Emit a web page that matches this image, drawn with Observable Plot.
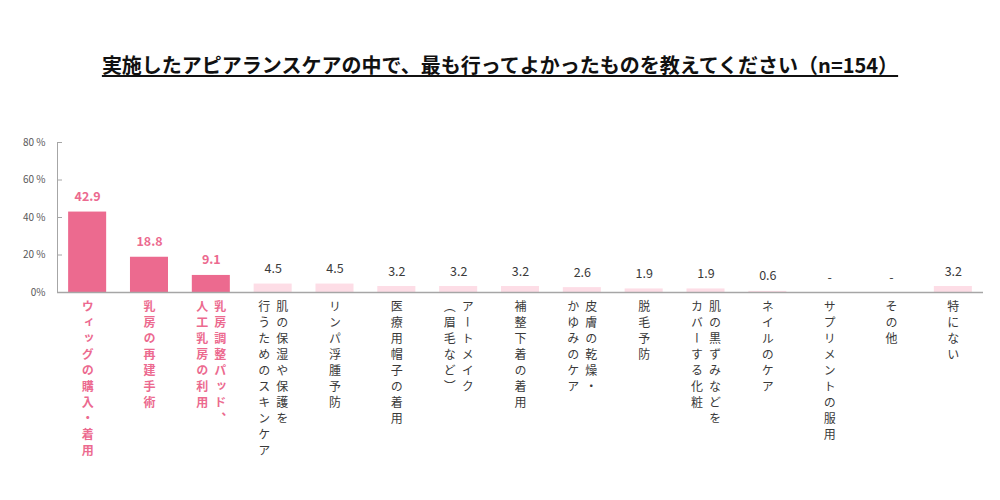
<!DOCTYPE html>
<html>
<head>
<meta charset="utf-8">
<script src="https://cdn.jsdelivr.net/npm/d3@7"></script>
<script src="https://cdn.jsdelivr.net/npm/@observablehq/plot@0.6"></script>
<style>
  html, body { margin: 0; padding: 0; background: #fff; }
  body { width: 1000px; height: 500px; overflow: hidden; font-family: "Noto Sans CJK JP", "Noto Sans", sans-serif; }
  #title { height: 90px; box-sizing: border-box; padding-top: 51px; text-align: center; font-size: 20px; font-weight: bold; line-height: 28px; color: #111; }
  #title span { text-decoration: underline; text-decoration-thickness: 2px; text-underline-offset: 2px; }
  .vlab text { writing-mode: vertical-rl; letter-spacing: 4px; }
</style>
</head>
<body>
<div id="title"><span>実施したアピアランスケアの中で、最も行ってよかったものを教えてください（n=154）</span></div>
<div id="chart"></div>
<script>
const categories = ["ウィッグの購入・着用","乳房の再建手術","乳房調整パッド、人工乳房の利用","肌の保湿や保護を行うためのスキンケア","リンパ浮腫予防","医療用帽子の着用","アートメイク（眉毛など）","補整下着の着用","皮膚の乾燥・かゆみのケア","脱毛予防","肌の黒ずみなどをカバーする化粧","ネイルのケア","サプリメントの服用","その他","特にない"];
const values = [42.9,18.8,9.1,4.5,4.5,3.2,3.2,3.2,2.6,1.9,1.9,0.6,0,0,3.2];
const valueLabels = ["42.9","18.8","9.1","4.5","4.5","3.2","3.2","3.2","2.6","1.9","1.9","0.6","-","-","3.2"];
const labelLine1 = ["ウィッグの購入・着用","乳房の再建手術","乳房調整パッド、","肌の保湿や保護を","リンパ浮腫予防","医療用帽子の着用","アートメイク","補整下着の着用","皮膚の乾燥・","脱毛予防","肌の黒ずみなどを","ネイルのケア","サプリメントの服用","その他","特にない"];
const labelLine2 = ["","","人工乳房の利用","行うためのスキンケア","","","（眉毛など）","","かゆみのケア","","カバーする化粧","","","",""];
const highlighted = [true,true,true,false,false,false,false,false,false,false,false,false,false,false,false];
const yTicks = [0,20,40,60,80];
const yTickLabels = ["0%","20 %","40 %","60 %","80 %"];

const PINK = "#EC6A8F";
const LIGHT = "#FDDDE6";
const TEXT = "#3A3A3A";

const data = categories.map((c, i) => ({
  cat: c, value: values[i], label: valueLabels[i],
  l1: labelLine1[i], l2: labelLine2[i], hi: highlighted[i]
}));

function labelMarks(subset, color, weight) {
  const single = subset.filter(d => !d.l2);
  const dbl = subset.filter(d => d.l2);
  const common = { x: "cat", y: 0, dy: 8, textAnchor: "start", lineAnchor: "bottom", fontSize: 12, fill: color, fontWeight: weight, className: "vlab" };
  return [
    Plot.text(subset, { x: "cat", y: "value", text: "label", dy: -15, fontSize: 12.5, fill: color, fontWeight: weight }),
    Plot.text(single, { ...common, text: "l1" }),
    Plot.text(dbl, { ...common, text: "l1", dx: 9 }),
    Plot.text(dbl, { ...common, text: "l2", dx: -9 })
  ];
}

const chart = Plot.plot({
  width: 1000, height: 410,
  marginTop: 52, marginBottom: 208, marginLeft: 57, marginRight: 17,
  style: { fontFamily: "'Noto Sans CJK JP', sans-serif", background: "#fff" },
  x: { domain: categories, paddingInner: 0.385, paddingOuter: 0.18, round: false, axis: null },
  y: { domain: [0, 80], axis: null, label: null },
  marks: [
    Plot.barY(data, { x: "cat", y: "value", fill: d => d.hi ? PINK : LIGHT }),
    Plot.ruleY([0], { stroke: "#A6A6A6", strokeWidth: 1.5 }),
    Plot.frame({ anchor: "left", stroke: "#A6A6A6" }),
    Plot.tickY(yTicks.slice(1), { y: d => d, stroke: "#A6A6A6", insetRight: 921 }),
    Plot.axisY({ ticks: yTicks, tickFormat: d => yTickLabels[yTicks.indexOf(d)], tickSize: 0, tickPadding: 12, fontSize: 10, color: "#595959", label: null }),
    ...labelMarks(data.filter(d => d.hi), PINK, "bold"),
    ...labelMarks(data.filter(d => !d.hi), TEXT, "normal")
  ]
});
document.getElementById("chart").appendChild(chart);
</script>
</body>
</html>
